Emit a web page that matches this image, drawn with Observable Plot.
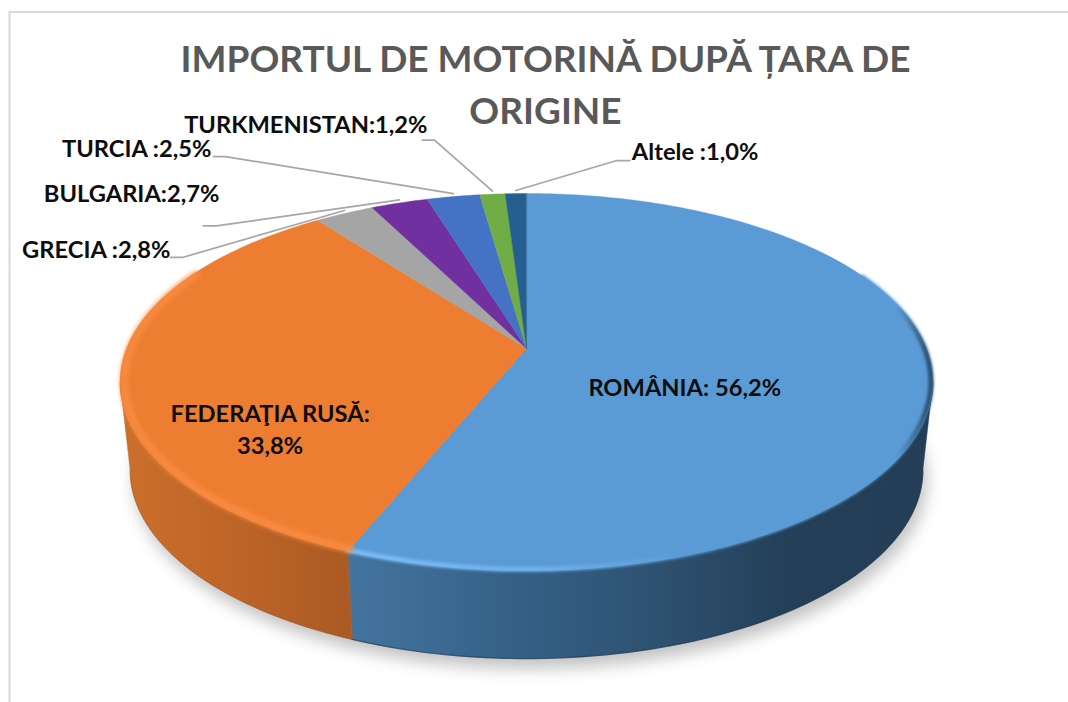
<!DOCTYPE html>
<html lang="ro">
<head>
<meta charset="utf-8">
<script src="https://cdn.jsdelivr.net/npm/d3@7"></script>
<script src="https://cdn.jsdelivr.net/npm/@observablehq/plot@0.6"></script>
<style>
  html, body { margin: 0; padding: 0; background: #fff; }
  svg { display: block; }
</style>
</head>
<body>
<div id="chart"></div>
<script>
// ---- Data ----
const titleLines = ["IMPORTUL DE MOTORINĂ DUPĂ ȚARA DE", "ORIGINE"];
const countries = ["ROMÂNIA", "FEDERAŢIA RUSĂ", "GRECIA", "BULGARIA", "TURCIA", "TURKMENISTAN", "Altele"];
const shares = [56.2, 33.8, 2.8, 2.7, 2.5, 1.2, 1.0];
const labelTexts = [
  ["ROMÂNIA: 56,2%"],
  ["FEDERAŢIA RUSĂ:", "33,8%"],
  ["GRECIA :2,8%"],
  ["BULGARIA:2,7%"],
  ["TURCIA :2,5%"],
  ["TURKMENISTAN:1,2%"],
  ["Altele :1,0%"]
];
const sliceColors = ["#5b9bd5", "#ed7d31", "#a5a5a5", "#7030a0", "#4472c4", "#70ad47", "#255e91"];

// ---- Pie camera (a tilted disc seen in perspective) ----
const cam = {cx: 526, cy: 348, A: 400, B: 182.6, k: 0.178, depth: 88, shrink: 0.975};
const project = (t, r = 1) => {
  const u = r * Math.sin(t), v = -r * Math.cos(t), w = 1 - cam.k * v;
  return {x: cam.cx + cam.A * u / w, y: cam.cy + cam.B * v / w};
};
const lower = (p) => ({x: cam.cx + cam.shrink * (p.x - cam.cx), y: p.y + cam.depth});
const arc = (t0, t1, r = 1) => {
  const n = Math.max(2, Math.ceil(Math.abs(t1 - t0) * 180 / Math.PI));
  return d3.range(n + 1).map((i) => project(t0 + (t1 - t0) * i / n, r));
};
const deg = Math.PI / 180;
const tangentR = Math.acos(-cam.k), tangentL = 2 * Math.PI - tangentR;

const arcs = d3.pie().sort(null).startAngle(0).endAngle(2 * Math.PI)(shares);
const wedge = (a) => [project(0, 0), ...arc(a.startAngle, a.endAngle)];
const wall = (t0, t1) => {
  const top = arc(t0, t1);
  return [...top, ...top.slice().reverse().map(lower)];
};
const mid = (i) => (arcs[i].startAngle + arcs[i].endAngle) / 2;

// ---- Label placement: offsets from the slice anchor ----
const inner = [
  {i: 0, r: 0.40, dx: -1, dy: 23},
  {i: 1, r: 0.60, dx: -15, dy: 65}
];
const outer = [
  {i: 2, elbow: [-162, 47], end: [-174, 47], text: [-174, 40], anchor: "end"},
  {i: 3, elbow: [-183, 26], end: [-196, 26], text: [-180, -6], anchor: "end"},
  {i: 4, elbow: [-228, -37], end: [-240, -37], text: [-242, -44], anchor: "end"},
  {i: 5, elbow: [-58, -51], end: [-70, -51], text: [-65, -66], anchor: "end"},
  {i: 6, elbow: [101, -30], end: [114, -30], text: [116, -38], anchor: "start"}
];
const rimAnchor = (i) => { const p = project(mid(i)); return {x: p.x, y: p.y - 3}; };

const leaders = outer.map((o) => {
  const a = rimAnchor(o.i);
  return [a, {x: a.x + o.elbow[0], y: a.y + o.elbow[1]}, {x: a.x + o.end[0], y: a.y + o.end[1]}];
});
const outerLabels = outer.map((o) => {
  const a = rimAnchor(o.i);
  return {x: a.x + o.text[0], y: a.y + o.text[1], label: labelTexts[o.i][0], anchor: o.anchor};
});
const innerLabels = inner.flatMap((o) => {
  const a = project(mid(o.i), o.r);
  return [{x: a.x + o.dx, y: a.y + o.dy, label: labelTexts[o.i].join("\n")}];
});

const font = "Lato, Carlito, 'Open Sans', sans-serif";
const labelSize = 23.7;
const xy = {x: "x", y: "y"};

const defs = () => {
  const svgNS = "http://www.w3.org/2000/svg";
  const g = document.createElementNS(svgNS, "defs");
  const grad = (id, stops) => {
    const lg = document.createElementNS(svgNS, "linearGradient");
    lg.setAttribute("id", id);
    lg.setAttribute("gradientUnits", "userSpaceOnUse");
    lg.setAttribute("x1", stops[0][0]); lg.setAttribute("x2", stops[stops.length - 1][0]);
    lg.setAttribute("y1", 0); lg.setAttribute("y2", 0);
    const span = stops[stops.length - 1][0] - stops[0][0];
    for (const [x, c] of stops) {
      const s = document.createElementNS(svgNS, "stop");
      s.setAttribute("offset", (x - stops[0][0]) / span);
      s.setAttribute("stop-color", c);
      lg.appendChild(s);
    }
    g.appendChild(lg);
  };
  grad("wallBlue", [[345, "#44759f"], [500, "#366289"], [650, "#2e5272"], [790, "#243f57"], [934, "#233e56"]]);
  grad("wallOrange", [[120, "#cb6f2b"], [240, "#bd6427"], [350, "#aa5a24"]]);
  grad("rimBlue", [[345, "#7dbdf9"], [540, "#6fb1ee"], [680, "#5b9bd5"], [895, "#5b9bd5"], [925, "#2f5573"], [936, "#27465f"]]);
  return g;
};

const chart = Plot.plot({
  width: 1068,
  height: 702,
  margin: 0,
  style: {background: "#fff"},
  x: {domain: [0, 1068], range: [0, 1068], axis: null},
  y: {domain: [0, 702], range: [0, 702], axis: null},
  marks: [
    defs,
    // chart frame
    Plot.ruleX([9], {y1: 11, y2: 702, stroke: "#d9d9d9", strokeWidth: 2}),
    Plot.ruleY([11.5], {x1: 9, x2: 1068, stroke: "#d9d9d9", strokeWidth: 2}),
    // soft shadow under the disc
    Plot.line(arc(0, 2 * Math.PI).map(lower).map((p) => ({x: p.x + 4, y: p.y + 10})), {
      ...xy, curve: "linear-closed", fill: "#8f8f8f", fillOpacity: 0.55, stroke: null, imageFilter: "blur(8px)"
    }),
    // side wall
    Plot.line(wall(tangentR, arcs[0].endAngle), {...xy, curve: "linear-closed", fill: "url(#wallBlue)", stroke: "url(#wallBlue)", strokeWidth: 0.5}),
    Plot.line(wall(arcs[0].endAngle, tangentL), {...xy, curve: "linear-closed", fill: "url(#wallOrange)", stroke: "url(#wallOrange)", strokeWidth: 0.5}),
    Plot.line(arc(tangentR, arcs[0].endAngle).map(lower), {...xy, stroke: "#1d3449", strokeWidth: 1.2, strokeOpacity: 0.6, imageFilter: "blur(0.6px)"}),
    Plot.line(arc(arcs[0].endAngle, tangentL).map(lower), {...xy, stroke: "#8f4a1b", strokeWidth: 1, strokeOpacity: 0.45, imageFilter: "blur(0.6px)"}),
    // top face
    ...arcs.map((a, i) => Plot.line(wedge(a), {...xy, curve: "linear-closed", fill: sliceColors[i], stroke: sliceColors[i], strokeWidth: 0.4})),
    // bevel along the rim
    Plot.line(arc(65 * deg, arcs[0].endAngle, 0.995), {...xy, stroke: "url(#rimBlue)", strokeWidth: 5, imageFilter: "blur(1.6px)"}),
    Plot.line(arc(arcs[0].endAngle, 296 * deg, 0.99), {...xy, stroke: "#f98c42", strokeWidth: 7, imageFilter: "blur(2.4px)"}),
    // leader lines
    ...leaders.map((l) => Plot.line(l, {...xy, stroke: "#a6a6a6", strokeWidth: 1.7})),
    // title
    Plot.text(titleLines, {
      x: 545, y: (d, i) => 60 + i * 52, text: (d) => d,
      fontFamily: font, fontSize: 37, fontWeight: 700, fill: "#595959", textAnchor: "middle"
    }),
    // labels
    Plot.text(outerLabels.filter((d) => d.anchor === "end"), {
      ...xy, text: "label", textAnchor: "end", fontFamily: font, fontSize: labelSize, fontWeight: 700, fill: "#0d0d0d"
    }),
    Plot.text(outerLabels.filter((d) => d.anchor === "start"), {
      ...xy, text: "label", textAnchor: "start", fontFamily: font, fontSize: labelSize, fontWeight: 700, fill: "#0d0d0d"
    }),
    Plot.text(innerLabels, {
      ...xy, text: "label", textAnchor: "middle", lineHeight: 1.36, fontFamily: font, fontSize: labelSize, fontWeight: 700, fill: "#0d0d0d"
    })
  ]
});
document.getElementById("chart").appendChild(chart);
</script>
</body>
</html>
